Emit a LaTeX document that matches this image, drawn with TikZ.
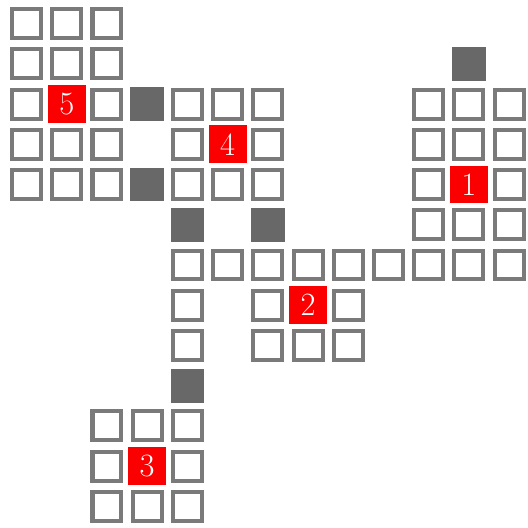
\documentclass[tikz,border=0pt]{standalone}
\usetikzlibrary{positioning}
\definecolor{cellgray}{RGB}{122,122,122}
\definecolor{blockgray}{RGB}{104,104,104}
\definecolor{targetred}{RGB}{250,0,0}

\begin{document}
\begin{tikzpicture}[x=1cm,y=1cm,
  cell/.style={draw=cellgray,line width=1mm,minimum size=7.2mm,inner sep=0pt},
  block/.style={fill=blockgray,minimum size=8.4mm,inner sep=0pt},
  target/.style={fill=targetred,text=white,minimum size=9.4mm,inner sep=0pt,font=\fontsize{23}{23}\selectfont}]
\useasboundingbox (-0.66,0.59) rectangle (12.47,-12.52);
% --- upper left room (5) ---
\foreach \c/\r in {0/0,1/0,2/0,0/1,1/1,2/1,0/2,2/2,0/3,1/3,2/3,0/4,1/4,2/4}
  \node[cell] (c\c-\r) at (\c,-\r) {};
\node[target] (t5) at (1,-2) {5};
% --- middle room (4) ---
\foreach \c/\r in {4/2,5/2,6/2,4/3,6/3,4/4,5/4,6/4}
  \node[cell] (c\c-\r) at (\c,-\r) {};
\node[target] (t4) at (5,-3) {4};
% --- right room (1) ---
\foreach \c/\r in {10/2,11/2,12/2,10/3,11/3,12/3,10/4,12/4,10/5,11/5,12/5}
  \node[cell] (c\c-\r) at (\c,-\r) {};
\node[target] (t1) at (11,-4) {1};
% --- corridor ---
\foreach \c in {4,...,12}
  \node[cell] (c\c-6) at (\c,-6) {};
\foreach \r in {7,8}
  \node[cell] (c4-\r) at (4,-\r) {};
% --- lower room (2) ---
\foreach \c/\r in {6/7,8/7,6/8,7/8,8/8}
  \node[cell] (c\c-\r) at (\c,-\r) {};
\node[target] (t2) at (7,-7) {2};
% --- bottom room (3) ---
\foreach \c/\r in {2/10,3/10,4/10,2/11,4/11,2/12,3/12,4/12}
  \node[cell] (c\c-\r) at (\c,-\r) {};
\node[target] (t3) at (3,-11) {3};
% --- doors ---
\foreach \c/\r in {3/2,3/4,11/1,4/5,6/5,4/9}
  \node[block] (d\c-\r) at (\c,-\r) {};
\end{tikzpicture}
\end{document}
